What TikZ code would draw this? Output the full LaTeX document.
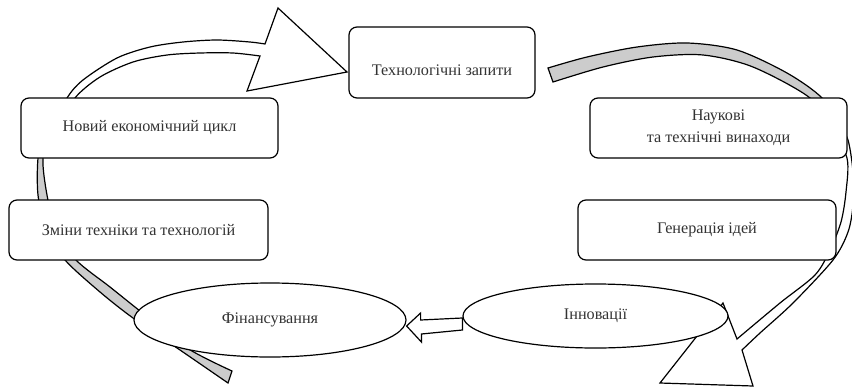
\documentclass[tikz,border=0pt]{standalone}
\usepackage{fontspec}
\setmainfont{Liberation Serif}
\usetikzlibrary{shapes.geometric,calc}
\begin{document}
\begin{tikzpicture}[x=0.5pt, y=-0.5pt, font=\fontsize{8.1}{11}\selectfont, text=black!80,
        box/.style={draw, fill=white, rounded corners=4pt, line width=0.6pt, inner sep=0pt, align=center, minimum width=128.5pt, minimum height=30pt},
        oval/.style={draw, fill=white, ellipse, line width=0.6pt, inner sep=0pt},
        ribback/.style={draw, fill=black!20, line width=0.6pt},
        ribfront/.style={draw, fill=white, line width=0.6pt},
        blockarr/.style={draw, fill=white, line width=0.6pt}]
        \useasboundingbox (0,0) rectangle (852,386);
        % left ribbon, back part and front part with head
        \filldraw[ribback] plot[smooth] coordinates {(44,128) (38,158) (38,195) (46,230) (65,260) (100,292) (133,318) (180,350) (228,383)}
            -- plot[smooth] coordinates {(232,371) (187,348) (140,311) (110,287) (76,260) (56,230) (47,195) (43,158) (52,128)} -- cycle;
        \filldraw[ribfront] plot[smooth] coordinates {(55,125) (67,98) (83,80) (117,58) (150,47) (183,42) (217,40) (250,42) (265,44)}
            -- (278,8) -- (347,72) -- (247,91)
            -- plot[smooth] coordinates {(260,56) (233,53) (200,53) (167,55) (133,62) (100,77) (75,98) (63,125)} -- cycle;
        % right ribbon
        \filldraw[ribback] plot[smooth] coordinates {(836,125) (822,98) (787,73) (737,50) (687,43) (637,47) (587,57) (548,68)}
            -- plot[smooth] coordinates {(553,82) (603,67) (653,57) (703,55) (753,67) (810,98) (822,125)} -- cycle;
        \filldraw[ribfront] plot[smooth] coordinates {(838,122) (848,140) (853,172) (853,205) (848,232) (833,260) (793,303) (760,333) (742,350)}
            -- (753,386) -- (660,383) -- (723,303)
            -- plot[smooth] coordinates {(737,339) (780,303) (815,275) (830,250) (841,222) (846,192) (847,158) (830,125)} -- cycle;
        \node[box, minimum width=93pt, minimum height=35.5pt, text height=13pt] (req) at (442,62.5) {Технологічні запити};
        \node[box] (inv) at (718.5,128) {Наукові\\та технічні винаходи};
        \node[box] (cyc) at (149.5,128) {Новий економічний цикл};
        \node[box, minimum width=129.5pt] (chg) at (138.5,230) {Зміни техніки та технологій};
        \node[box, minimum width=129pt] (gen) at (707,230) {Генерація ідей};
        \node[oval, minimum width=136pt, minimum height=37pt] (fin) at (270,320) {Фінансування};
        \node[oval, minimum width=132.5pt, minimum height=32pt] (inn) at (595.5,316) {Інновації};
        \filldraw[blockarr] ($(fin.east)+(0,6)$) -- ++(14,-13) -- ++(0,7) -- ($(inn.west)+(0,2)$)
            -- ++(0,12) -- ++(-41,4) -- ++(0,8) -- cycle;
\end{tikzpicture}
\end{document}
